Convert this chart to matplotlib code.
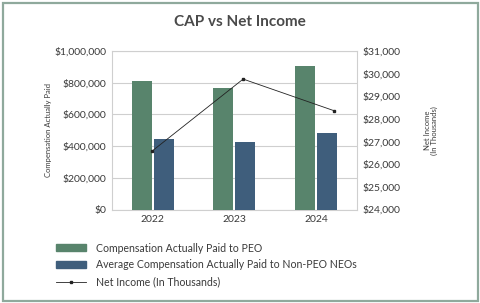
import matplotlib
matplotlib.use("Agg")
import matplotlib.pyplot as plt
from matplotlib.patches import Rectangle
from matplotlib.lines import Line2D
import numpy as np

years = ["2022", "2023", "2024"]
cap_peo = [812000, 764000, 903000]
cap_neo = [444000, 423000, 482000]
net_income = [26580, 29760, 28360]

left_ticks = [0, 200000, 400000, 600000, 800000, 1000000]
right_ticks = [24000, 25000, 26000, 27000, 28000, 29000, 30000, 31000]

GREEN = "#58846c"
BLUE = "#3f5e7c"
GRID = "#cfcfcf"
TXT = "#3a3a3a"

plt.rcParams['font.family'] = ['Lato', 'DejaVu Sans']

W, H = 480, 303
fig = plt.figure(figsize=(W / 100, H / 100), dpi=100)

# border
fig.patches.append(Rectangle((2.5 / W, 2.5 / H), 1 - 5 / W, 1 - 5 / H,
                             transform=fig.transFigure, fill=False,
                             edgecolor="#8fa99c", linewidth=1.6))

ax = fig.add_axes([112 / W, 1 - 209.5 / H, (357 - 112) / W, (209.5 - 51) / H])
x = np.arange(len(years))
bw = 0.245
ax.bar(x - 0.137, cap_peo, width=bw, color=GREEN, zorder=3)
ax.bar(x + 0.133, cap_neo, width=bw, color=BLUE, zorder=3)
ax.set_xlim(-0.5, 2.5)
ax.set_ylim(0, 1000000)
ax.set_yticks(left_ticks)
ax.set_yticklabels(["${:,.0f}".format(v) for v in left_ticks])
ax.set_xticks(x)
ax.set_xticklabels(years)
ax.grid(axis="y", color=GRID, linewidth=0.8, zorder=0)
for s in ax.spines.values():
    s.set_color(GRID)
    s.set_linewidth(0.8)
ax.tick_params(length=0, labelsize=7.5, colors=TXT, pad=4)
ax.set_ylabel("Compensation Actually Paid", fontsize=5.5, color=TXT, labelpad=2)

ax2 = ax.twinx()
ax2.set_ylim(24000, 31000)
ax2.set_yticks(right_ticks)
ax2.set_yticklabels(["${:,.0f}".format(v) for v in right_ticks])
ax2.tick_params(length=0, labelsize=7.5, colors=TXT, pad=4)
for s in ax2.spines.values():
    s.set_visible(False)
ax2.set_ylabel("Net Income\n(In Thousands)", fontsize=5.5, color=TXT, labelpad=17,
               linespacing=1.0)

ax3 = ax2.twiny()
ax3.set_xlim(-0.44, 2.25)
ax3.plot(np.arange(len(years)), net_income, color="#222222", linewidth=0.6,
         marker="s", markersize=1.8, zorder=5)
ax3.set_xticks([])
for s in ax3.spines.values():
    s.set_visible(False)

fig.text(0.5, 1 - 22 / H, "CAP vs Net Income", ha="center", va="center",
         fontsize=11, fontweight="bold", color="#4a4a4a")

handles = [Rectangle((0, 0), 1, 1, color=GREEN),
           Rectangle((0, 0), 1, 1, color=BLUE),
           Line2D([], [], color="#222222", linewidth=0.6, marker="s", markersize=1.8)]
labels = ["Compensation Actually Paid to PEO",
          "Average Compensation Actually Paid to Non-PEO NEOs",
          "Net Income (In Thousands)"]
fig.legend(handles, labels, loc="upper left", bbox_to_anchor=(46 / W, 1 - 233 / H),
           frameon=False, fontsize=7.6, labelcolor=TXT, handlelength=2.9,
           handleheight=0.6, handletextpad=0.9, labelspacing=0.55)

fig.savefig("out.png", dpi=100)
